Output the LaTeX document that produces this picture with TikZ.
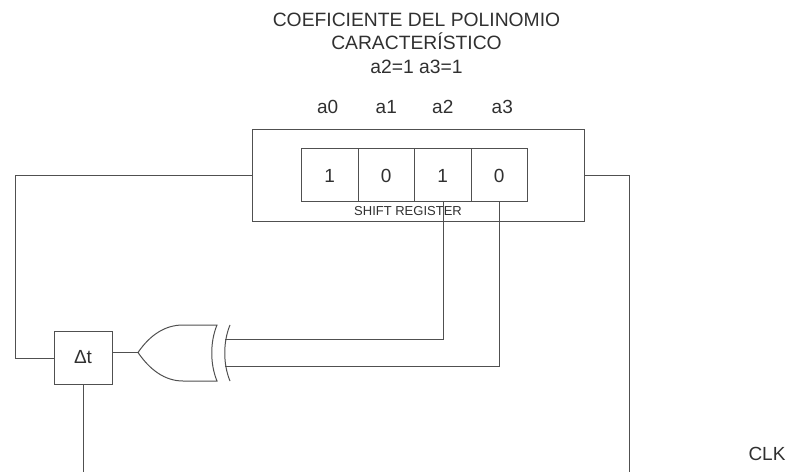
\documentclass[tikz,border=0pt]{standalone}
\usepackage{xcolor}
\usepackage{fontspec}
\setmainfont{Liberation Sans}
\usetikzlibrary{positioning}
\definecolor{wiregray}{HTML}{505050}
\definecolor{labelgray}{HTML}{303030}
\tikzset{
  wire/.style={draw=wiregray, line width=1pt},
  cellbox/.style={draw=wiregray, line width=1pt, minimum width=56.5pt, minimum height=53pt,
        inner sep=0pt, outer sep=0pt, text=labelgray, font=\fontsize{19}{23.5}\selectfont},
  tag/.style={inner sep=0pt, text=labelgray, font=\fontsize{19}{23.5}\selectfont}
}

\begin{document}
\begin{tikzpicture}[x=1pt, y=-1pt]
  \useasboundingbox (0,0) rectangle (793,473);
  % title
  \node[tag, align=center, font=\fontsize{19.3}{23.5}\selectfont] (title) at (416.5,43)
    {COEFICIENTE DEL POLINOMIO\\CARACTERÍSTICO\\a2=1 a3=1};
  % register
  \node[draw=wiregray, line width=1pt, outer sep=0pt, minimum width=331.5pt, minimum height=92pt, inner sep=0pt]
    (regbox) at (418.25,175.5) {};
  \node[cellbox] (cella) at (329.75,175.5) {1};
  \node[cellbox, right=0pt of cella] (cellb) {0};
  \node[cellbox, right=0pt of cellb] (cellc) {1};
  \node[cellbox, right=0pt of cellc] (celld) {0};
  \node[tag, above=35pt of cella, xshift=-2pt] (laba) {a0};
  \node[tag, above=35pt of cellb] (labb) {a1};
  \node[tag, above=35pt of cellc] (labc) {a2};
  \node[tag, above=35pt of celld, xshift=3pt] (labd) {a3};
  \node[tag, font=\fontsize{13}{15}\selectfont] (shift) at (408,211) {SHIFT REGISTER};
  % delay and clock
  \node[cellbox, minimum width=58pt] (delay) at (83,357.5) {Δt};
  \node[tag] (clk) at (767,454) {CLK};
  \coordinate (gatetip) at (138,352.5);
  \coordinate (inc) at (225,339);
  \coordinate (ind) at (225,366);
  \coordinate (clka) at (83,472);
  \coordinate (clkb) at (629,472);
  % gate
  \draw[wire, fill=white] (gatetip) .. controls (150,335) and (165,325) .. (183,325) -- (217,325)
    .. controls (210,342) and (210,364) .. (217,381) -- (183,381)
    .. controls (165,381) and (150,370) .. (gatetip);
  \draw[wire] (230,325) .. controls (223,342) and (223,364) .. (230,381);
  % wires
  \draw[wire] (regbox.west |- cella) -- (15,175.5) |- (delay.west |- 0,358);
  \draw[wire] (regbox.east |- celld) -| (clkb);
  \draw[wire] (delay.south) -- (clka);
  \draw[wire] (delay.east |- gatetip) -- (gatetip);
  \draw[wire] (443,202) |- (inc);
  \draw[wire] (499,202) |- (ind);
\end{tikzpicture}
\end{document}
